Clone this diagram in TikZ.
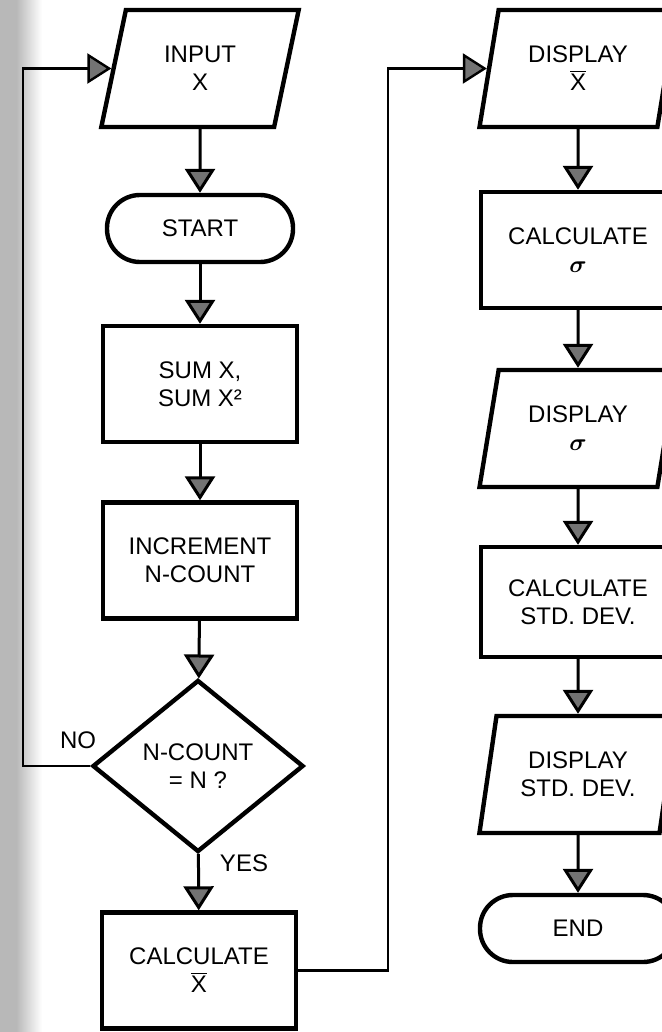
\documentclass[tikz,border=0pt]{standalone}
\usepackage{fontspec}
\setmainfont{Liberation Sans}
\usetikzlibrary{shapes.geometric,arrows.meta}
\begin{document}
\begin{tikzpicture}[x=0.5pt,y=-0.5pt,
  box/.style={draw=black, line width=2.2pt, fill=white, align=center, font=\fontsize{12}{14}\selectfont, inner sep=0pt},
  proc/.style={box, rectangle, minimum width=97pt, minimum height=58pt},
  io/.style={box, trapezium, trapezium left angle=75, trapezium right angle=105, trapezium stretches=true, minimum width=99pt, minimum height=58.5pt},
  term/.style={box, rectangle, rounded corners=16.5pt, minimum width=93pt, minimum height=33.5pt},
  dec/.style={box, diamond, minimum width=105.5pt, minimum height=86pt},
  arr/.style={line width=1.5pt, -{Triangle[length=12pt,width=15pt,fill=black!55]}},
  loopline/.style={arr, line width=1.2pt},
  lab/.style={font=\fontsize{12}{14}\selectfont, inner sep=0pt}
]
\useasboundingbox (0,0) rectangle (662,1032);
\clip (0,0) rectangle (662,1032);
\fill[white] (0,0) rectangle (662,1032);
% scanned margin
\fill[black!28] (0,0) rectangle (16,1032);
\shade[left color=black!28, right color=white] (16,0) rectangle (42,1032);

% left column
\node[io]   (inp)  at (200,68.5)  {INPUT\\X};
\node[term] (st)   at (200,228.5) {START};
\node[proc] (sum)  at (200,384)   {SUM X,\\SUM X²};
\node[proc] (inc)  at (200,560.5) {INCREMENT\\N-COUNT};
\node[dec]  (dia)  at (198,766)   {N-COUNT\\= N ?};
\node[proc] (cx)   at (199,970.5) {CALCULATE\\$\overline{\mbox{X}}$};

% right column
\node[io]   (dx)   at (578,68.5)  {DISPLAY\\$\overline{\mbox{X}}$};
\node[proc] (cs)   at (578,250)   {CALCULATE\\{\boldmath$\sigma$}};
\node[io]   (ds)   at (578,428.5) {DISPLAY\\{\boldmath$\sigma$}};
\node[proc, minimum height=55pt] (csd) at (578,602) {CALCULATE\\STD. DEV.};
\node[io]   (dsd)  at (578,774.5) {DISPLAY\\STD. DEV.};
\node[term, minimum width=98pt] (en) at (578,928.5) {END};

% labels
\node[lab] (no)  at (78,740)  {NO};
\node[lab] (yes) at (244,863) {YES};

% connectors
\draw[arr] (inp) -- (st);
\draw[arr] (st) -- (sum);
\draw[arr] (sum) -- (inc);
\draw[arr] (inc) -- (dia);
\draw[arr] (dia) -- (cx);
\draw[arr] (dx) -- (cs);
\draw[arr] (cs) -- (ds);
\draw[arr] (ds) -- (csd);
\draw[arr] (csd) -- (dsd);
\draw[arr] (dsd) -- (en);

\coordinate (lx) at (23,0);
\coordinate (rx) at (388,0);
\draw[loopline] (dia.west) -- (dia.west -| lx) |- (inp.west);
\draw[loopline] (cx.east) -- (cx.east -| rx) |- (dx.west);
\end{tikzpicture}
\end{document}
